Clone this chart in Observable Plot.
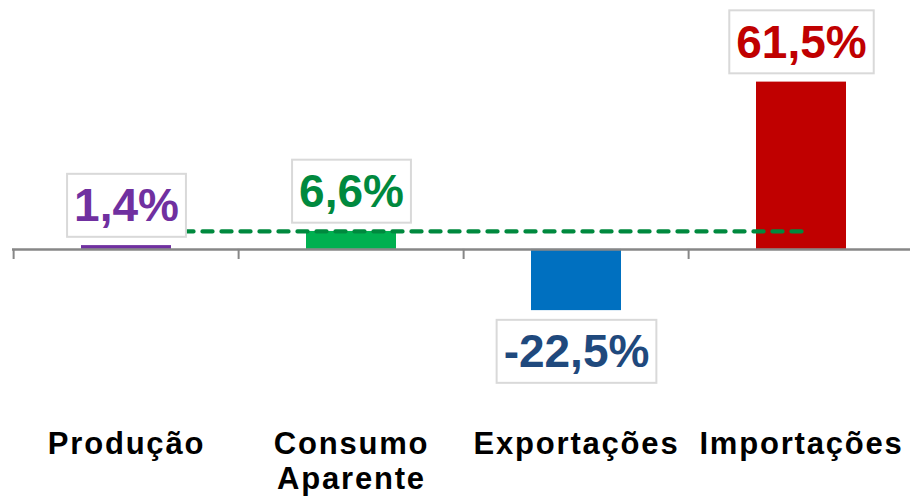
<!DOCTYPE html>
<html><head><meta charset="utf-8">
<script src="https://cdn.jsdelivr.net/npm/d3@7"></script>
<script src="https://cdn.jsdelivr.net/npm/@observablehq/plot@0.6"></script>
<style>
body{margin:0;background:#fff}
</style></head><body><div id="chart"></div>
<script>
const categories = ["Produção", "Consumo Aparente", "Exportações", "Importações"];
const categoryLabels = ["Produção", "Consumo\nAparente", "Exportações", "Importações"];
const values = [1.4, 6.6, -22.5, 61.5];
const valueLabels = ["1,4%", "6,6%", "-22,5%", "61,5%"];
const barColors = ["#7030A0", "#00B050", "#0070C0", "#C00000"];
const labelColors = ["#7030A0", "#00893E", "#1F497D", "#C00000"];
const referenceValue = 6.6;
const referenceSpan = ["Produção", "Importações"];

const data = categories.map((c, i) => ({
  c, v: values[i], label: valueLabels[i], name: categoryLabels[i],
  bar: barColors[i], lc: labelColors[i]
}));

const W = 910, H = 497, ML = 12, MR = -5, MT = 0, MB = 68;
const step = (W - MR - ML) / categories.length;
const tickLen = 3.7;

const chart = Plot.plot({
  width: W, height: H,
  marginLeft: ML, marginRight: MR, marginTop: MT, marginBottom: MB,
  x: {domain: categories, paddingInner: 0.6, paddingOuter: 0.3, axis: null},
  y: {domain: [-66.2, 91.5], axis: null},
  color: {type: "identity"},
  style: {fontFamily: "'Liberation Sans', Arial, sans-serif", background: "white"},
  marks: [
    Plot.barY(data, {x: "c", y: "v", fill: "bar"}),
    Plot.ruleY([0], {stroke: "#878787", strokeWidth: 2.5}),
    Plot.ruleX(categories, {x: d => d, y1: 0, y2: -tickLen, dx: -step / 2, stroke: "#878787", strokeWidth: 2}),
    Plot.lineY(referenceSpan, {x: d => d, y: () => referenceValue, stroke: "#00893E", strokeWidth: 4.3, strokeDasharray: "10,9", strokeLinecap: "round"}),
    Plot.text(data.filter(d => d.v >= 0), {x: "c", y: "v", text: "label", fill: "lc", dy: -39, fontSize: 46, fontWeight: "bold", lineAnchor: "middle"}),
    Plot.text(data.filter(d => d.v < 0), {x: "c", y: "v", text: "label", fill: "lc", dy: 42, fontSize: 46, fontWeight: "bold", lineAnchor: "middle"}),
    Plot.text(data, {x: "c", text: "name", frameAnchor: "bottom", lineAnchor: "top", fontSize: 31, fontWeight: "bold", fill: "black", lineHeight: 1.13})
  ]
});

document.getElementById("chart").append(chart);

// letter spacing on category labels
chart.querySelectorAll('g[font-size="31"] text').forEach(t => { t.style.letterSpacing = "1.8px"; });

// white boxes with light gray border behind value labels
const NS = "http://www.w3.org/2000/svg";
chart.querySelectorAll('g[font-size="46"] text').forEach(t => {
  const b = t.getBBox();
  const padX = 7, padY = 5.5;
  const r = document.createElementNS(NS, "rect");
  r.setAttribute("x", b.x - padX);
  r.setAttribute("y", b.y - padY);
  r.setAttribute("width", b.width + 2 * padX);
  r.setAttribute("height", b.height + 2 * padY);
  r.setAttribute("fill", "white");
  r.setAttribute("stroke", "#D9D9D9");
  r.setAttribute("stroke-width", 2);
  const tr = t.getAttribute("transform");
  if (tr) r.setAttribute("transform", tr);
  t.parentNode.insertBefore(r, t);
});
</script>
</body></html>
